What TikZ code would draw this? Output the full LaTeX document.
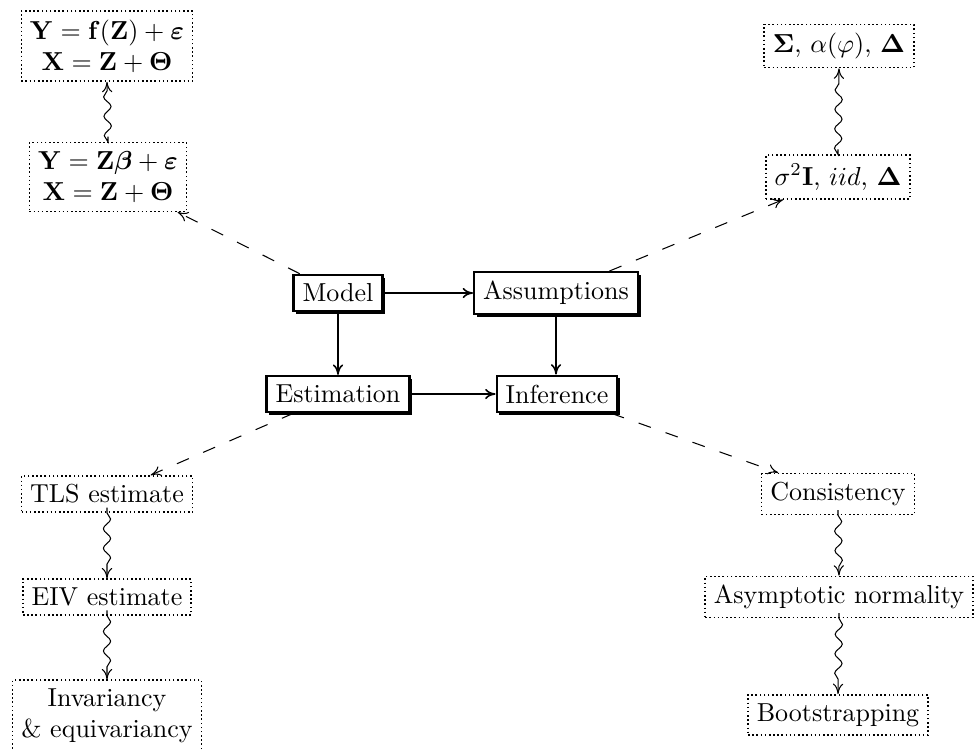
\documentclass[tikz,border=0pt]{standalone}
\usepackage{amsmath,amsbsy}
\usetikzlibrary{shadows,decorations.pathmorphing,arrows.meta}
\begin{document}
\begin{tikzpicture}[x=0.3846pt,y=-0.3846pt, >={Computer Modern Rightarrow[length=4pt,width=4pt]},
  mainbox/.style={draw, thick, fill=white, inner sep=3.5pt,
    drop shadow={shadow xshift=1.1pt, shadow yshift=-1.1pt, fill=black, opacity=1}},
  outbox/.style={draw, densely dotted, line width=0.6pt, align=center},
  dasharrow/.style={->, dash pattern=on 5pt off 6pt},
  wavearrow/.style={->, shorten <=2pt, decorate,
    decoration={snake, amplitude=1.4pt, segment length=7.5pt, post length=3pt}},
  solidarrow/.style={->, line width=0.6pt}]
\useasboundingbox (0,0) rectangle (978,749);

\node[mainbox] (model) at (338,293) {Model};
\node[mainbox] (assump) at (556,293) {Assumptions};
\node[mainbox] (estim) at (338,394) {Estimation};
\node[mainbox] (infer) at (557,394) {Inference};

\node[outbox] (m1) at (107,46) {$\mathbf{Y}=\mathbf{f}(\mathbf{Z})+\boldsymbol{\varepsilon}$\\$\mathbf{X}=\mathbf{Z}+\boldsymbol{\Theta}$};
\node[outbox] (m2) at (108,177) {$\mathbf{Y}=\mathbf{Z}\boldsymbol{\beta}+\boldsymbol{\varepsilon}$\\$\mathbf{X}=\mathbf{Z}+\boldsymbol{\Theta}$};
\node[outbox] (a2) at (839,46) {$\boldsymbol{\Sigma}$, $\alpha(\varphi)$, $\boldsymbol{\Delta}$};
\node[outbox] (a1) at (838,177) {$\sigma^2\mathbf{I}$, $iid$, $\boldsymbol{\Delta}$};
\node[outbox] (tls) at (107,494) {TLS estimate};
\node[outbox] (eiv) at (107,597) {EIV estimate};
\node[outbox] (inv) at (107,716) {Invariancy\\\& equivariancy};
\node[outbox] (cons) at (838,494) {Consistency};
\node[outbox] (asym) at (839,597) {Asymptotic normality};
\node[outbox] (boot) at (838,715) {Bootstrapping};

\draw[solidarrow] (model) -- (assump);
\draw[solidarrow] (model) -- (estim);
\draw[solidarrow] (assump) -- (assump |- infer.north);
\draw[solidarrow] (estim) -- (infer);

\draw[dasharrow] (model) -- (m2);
\draw[dasharrow] (assump) -- (a1);
\draw[dasharrow] (estim) -- (tls);
\draw[dasharrow] (infer) -- (cons);

\draw[wavearrow] (m2.north) -- (m1.south);
\draw[wavearrow] (a1.north) -- (a2.south);
\draw[wavearrow] (tls.south) -- (eiv.north);
\draw[wavearrow] (eiv.south) -- (inv.north);
\draw[wavearrow] (cons.south) -- (asym.north);
\draw[wavearrow] (asym.south) -- (boot.north);
\end{tikzpicture}
\end{document}
